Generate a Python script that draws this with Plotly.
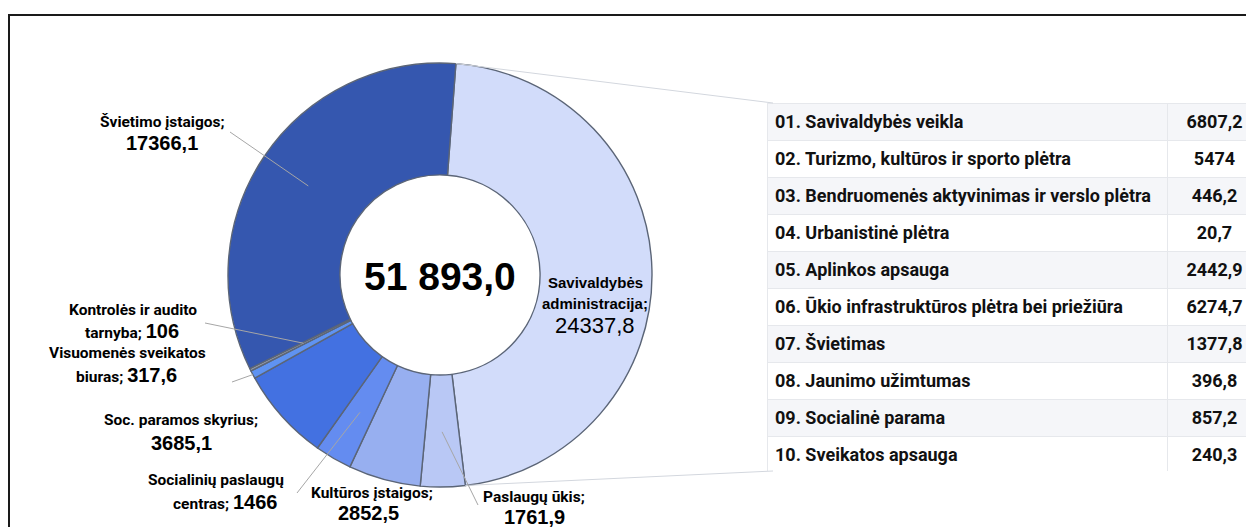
import math
import plotly.graph_objects as go

# ---------------- data ----------------
categories = ["Savivaldybės administracija", "Paslaugų ūkis", "Kultūros įstaigos",
              "Socialinių paslaugų centras", "Soc. paramos skyrius",
              "Visuomenės sveikatos biuras", "Kontrolės ir audito tarnyba",
              "Švietimo įstaigos"]
values = [24337.8, 1761.9, 2852.5, 1466, 3685.1, 317.6, 106, 17366.1]

programs = ["01. Savivaldybės veikla", "02. Turizmo, kultūros ir sporto plėtra",
            "03. Bendruomenės aktyvinimas ir verslo plėtra", "04. Urbanistinė plėtra",
            "05. Aplinkos apsauga", "06. Ūkio infrastruktūros plėtra bei priežiūra",
            "07. Švietimas", "08. Jaunimo užimtumas", "09. Socialinė parama",
            "10. Sveikatos apsauga"]
program_values = [6807.2, 5474, 446.2, 20.7, 2442.9, 6274.7, 1377.8, 396.8, 857.2, 240.3]

# ---------------- styling / layout ----------------
W, H = 1254, 527
OFF = 8                              # page body margin offset
slice_colors = ["#D2DCFA", "#B9C8F5", "#97AFF0", "#648CF0", "#4371E1",
                "#5F93F2", "#989DA8", "#3557AF"]
CX, CY, R = 440, 275, 212          # donut centre / radius in page px
HOLE = 0.472
ROT = 4.3                           # start angle, degrees clockwise from 12 o'clock

NAME_FONT = "Roboto"
NUM_FONT = "Liberation Sans"


def px(x):
    return (x - OFF) / W


def py(y):
    return 1 - (y - OFF) / H


def fmt(v):
    return f"{v}".replace(".", ",")


total = sum(values)
total_txt = f"{total:,.1f}".replace(",", " ").replace(".", ",")

fig = go.Figure()

fig.add_trace(go.Pie(
    labels=categories, values=values, sort=False, direction="clockwise",
    rotation=ROT, hole=HOLE, textinfo="none", hoverinfo="label+value",
    marker=dict(colors=slice_colors, line=dict(color="#5b6577", width=1.4)),
    domain=dict(x=[px(CX - R), px(CX + R)], y=[py(CY + R), py(CY - R)]),
    showlegend=False,
))

# table (first program row used as header row)
row_h = 36.7
fill_gray, fill_white = "#F5F6F9", "#FFFFFF"
cell_fills = [fill_white if i % 2 == 0 else fill_gray for i in range(len(programs) - 1)]
fig.add_trace(go.Table(
    domain=dict(x=[px(767), 1.0], y=[py(471), py(103)]),
    columnwidth=[400, 95],
    header=dict(values=[f"<b>{programs[0]}</b>", f"<b>{fmt(program_values[0])}</b>"],
                align=["left", "center"], height=row_h,
                fill_color=fill_gray, line=dict(color="#E6E8EC", width=1),
                font=dict(family=NAME_FONT, size=18, color="#111111")),
    cells=dict(values=[[f"<b>{p}</b>" for p in programs[1:]],
                       [f"<b>{fmt(v)}</b>" for v in program_values[1:]]],
               align=["left", "center"], height=row_h,
               fill_color=[cell_fills, cell_fills],
               line=dict(color="#E6E8EC", width=1),
               font=dict(family=NAME_FONT, size=18, color="#111111")),
))

shapes = []
annotations = []

# outer frame
shapes.append(dict(type="rect", xref="paper", yref="paper",
                   x0=px(9), y0=py(15), x1=1.02, y1=-0.03,
                   line=dict(color="#1a1a1a", width=2)))

# connector lines from the "Savivaldybės administracija" slice to the table
a0 = math.radians(ROT)
a1 = math.radians(ROT + 360 * values[0] / total)


def pt(angle, r):
    return CX + r * math.sin(angle), CY - r * math.cos(angle)


for ang, ty in [(a0, 103), (a1, 471)]:
    sx, sy = pt(ang, R)
    shapes.append(dict(type="line", xref="paper", yref="paper",
                       x0=px(sx), y0=py(sy), x1=px(773), y1=py(ty),
                       line=dict(color="#D3D7DE", width=1)))

# centre total
annotations.append(dict(x=px(CX), y=py(CY + 1), xref="paper", yref="paper",
                        text=f"<b>{total_txt}</b>", showarrow=False,
                        font=dict(family=NUM_FONT, size=39, color="#000000")))

# data labels
label_layout = [
    dict(n1=1, inline=False, pos=[(595, 282), (595, 303), (595, 325)], anchor="center",
         leader=None, vsize=22, vbold=False, nsize=15, nfont=NUM_FONT),
    dict(n1=2, inline=False, pos=[(534, 497), (534, 517)], anchor="center",
         leader=(478, 505), lr=0.74),
    dict(n1=2, inline=False, pos=[(372, 493), (368, 513)], anchor="center", leader=None),
    dict(n1=2, inline=True, pos=[(216, 480), (225, 502)], anchor="center",
         leader=(297, 493), lr=0.75),
    dict(n1=3, inline=False, pos=[(181, 420), (181, 443)], anchor="center", leader=None),
    dict(n1=2, inline=True, pos=[(208, 353), (179, 375)], anchor="right",
         leader=(232, 382), lr=1.0),
    dict(n1=3, inline=True, pos=[(199, 310), (181, 331)], anchor="right",
         leader=(205, 323), lr=0.72),
    dict(n1=2, inline=False, pos=[(162, 122), (162, 143)], anchor="center",
         leader=(230, 132), lr=0.75),
]

cum = 0
for name, v, lay in zip(categories, values, label_layout):
    start = ROT + 360 * cum / total
    cum += v
    end = ROT + 360 * cum / total
    mid = math.radians((start + end) / 2)

    nsize = lay.get("nsize", 15.5)
    nfont = lay.get("nfont", NAME_FONT)
    vsize = lay.get("vsize", 20)
    vtxt = fmt(v)
    if lay.get("vbold", True):
        vtxt = f"<b>{vtxt}</b>"

    words = name.split()
    first, rest = " ".join(words[:lay["n1"]]), " ".join(words[lay["n1"]:])
    lines = []
    if rest:
        lines.append(f"<b>{first}</b>")
        lines.append(f"<b>{rest};</b>")
    else:
        lines.append(f"<b>{first};</b>")
    if lay["inline"]:
        lines[-1] += (f" <span style='font-size:{vsize}px;font-family:{NUM_FONT}'>"
                      f"{vtxt}</span>")
        kinds = ["n"] * len(lines)
    else:
        lines.append(vtxt)
        kinds = ["n"] * (len(lines) - 1) + ["v"]

    for txt, kind, (lx, ly) in zip(lines, kinds, lay["pos"]):
        f = (dict(family=nfont, size=nsize, color="#000000") if kind == "n"
             else dict(family=NUM_FONT, size=vsize, color="#000000"))
        annotations.append(dict(x=px(lx), y=py(ly), xref="paper", yref="paper",
                                text=txt, showarrow=False, xanchor=lay["anchor"],
                                yanchor="middle", font=f))

    if lay.get("leader"):
        lx, ly = lay["leader"]
        ex, ey = pt(mid, R * lay["lr"])
        shapes.append(dict(type="line", xref="paper", yref="paper",
                           x0=px(lx), y0=py(ly), x1=px(ex), y1=py(ey),
                           line=dict(color="#A6A6A6", width=1)))

fig.update_layout(
    width=W, height=H, margin=dict(l=0, r=0, t=0, b=0),
    paper_bgcolor="white", plot_bgcolor="white",
    shapes=shapes, annotations=annotations,
)

fig.write_html("out.html")
